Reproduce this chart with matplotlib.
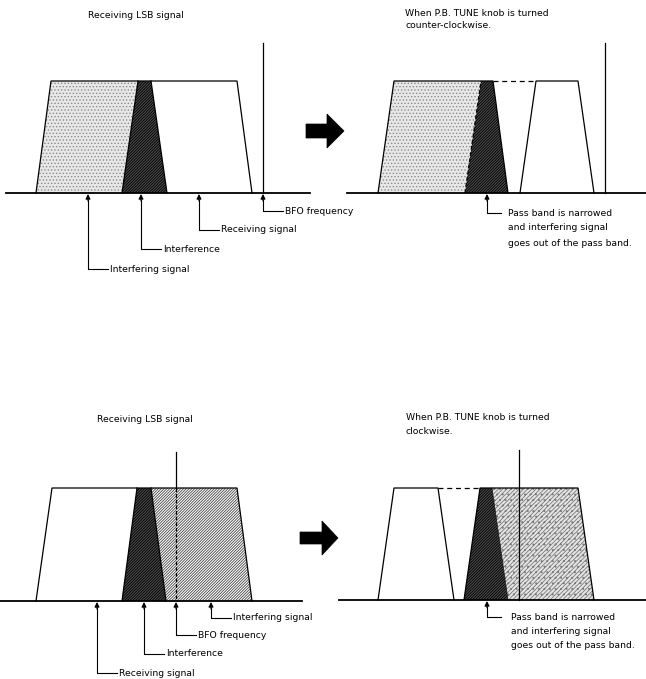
import matplotlib
matplotlib.use("Agg")
import matplotlib.pyplot as plt
from matplotlib.patches import Polygon

plt.rcParams["hatch.linewidth"] = 0.6
plt.rcParams["font.family"] = ["DejaVu Sans"]

# ---- diagram geometry (pixel units of the 646x679 page) ----
# top row: counter-clockwise case
top_base_y = 193
top_band_y = 81
top_bfo_top = 43
# pass band corners: bottom-left, top-left, top-right, bottom-right
top_l_band = [36, 51, 237, 252]
top_l_recv_edge = [122, 138]      # bottom, top of receiving signal lower edge
top_l_intf_edge = [167, 151]      # bottom, top of interfering signal upper edge
top_l_bfo = 263
top_l_arrows_x = [88, 141, 199, 263]
top_l_arrows_y = [269, 249, 230, 211]
top_l_labels = ["Interfering signal", "Interference", "Receiving signal", "BFO frequency"]

top_r_band = [378, 394, 493, 508]
top_r_recv_edge = [465, 481]
top_r_upper = [520, 536, 578, 594]
top_r_bfo = 605
top_r_arrow_x = 487
top_r_arrow_y = 213

# bottom row: clockwise case
bot_base_y = 601
bot_band_y = 488
bot_bfo_top = 452
bot_l_band = [36, 52, 237, 252]
bot_l_intf_edge = [122, 137]
bot_l_recv_edge = [166, 151]
bot_l_bfo = 176
bot_l_arrows_x = [211, 176, 144, 97]
bot_l_arrows_y = [618, 635, 654, 673]
bot_l_labels = ["Interfering signal", "BFO frequency", "Interference", "Receiving signal"]

bot_r_lower = [378, 394, 438, 454]
bot_r_band = [464, 480, 578, 594]
bot_r_intf_edge = [508, 492]
bot_r_bfo = 519
bot_r_arrow_x = 487
bot_r_arrow_y = 617

note_lines = ["Pass band is narrowed", "and interfering signal", "goes out of the pass band."]

fig = plt.figure(figsize=(6.46, 6.79), dpi=100)
ax = fig.add_axes([0, 0, 1, 1])
ax.set_xlim(0, 646)
ax.set_ylim(679, 0)
ax.axis("off")

LW = 0.9
FS = 6.7


def fill(pts, face, hatch=None, hcol="black"):
    ax.add_patch(Polygon(pts, closed=True, facecolor=face, edgecolor=hcol,
                         hatch=hatch, linewidth=0, zorder=1))


def outline(pts, ls="-", lw=LW):
    xs = [p[0] for p in pts]
    ys = [p[1] for p in pts]
    ax.plot(xs, ys, color="black", lw=lw, ls=ls, zorder=3, solid_joinstyle="miter")


def trap(c, yb, yt):
    return [(c[0], yb), (c[1], yt), (c[2], yt), (c[3], yb)]


def up_arrow(x, base):
    ax.annotate("", xy=(x, base + 1), xytext=(x, base + 8),
                arrowprops=dict(arrowstyle="-|>", color="black", lw=0.8,
                                mutation_scale=7, shrinkA=0, shrinkB=0), zorder=4)


def leader(x, base, y, label):
    up_arrow(x, base)
    ax.plot([x, x, x + 20], [base + 7, y, y], color="black", lw=0.8, zorder=3)
    ax.text(x + 22, y, label, fontsize=FS, va="center", ha="left")


def big_arrow(x0, xm, x1, yc, sh, hh):
    ax.add_patch(Polygon([(x0, yc - sh), (xm, yc - sh), (xm, yc - hh), (x1, yc),
                          (xm, yc + hh), (xm, yc + sh), (x0, yc + sh)],
                         closed=True, facecolor="black", edgecolor="black", lw=0.5))


stip = "....."
dark = "////////////"
# ---------------- top left ----------------
yb, yt = top_base_y, top_band_y
fill([(top_l_band[0], yb), (top_l_band[1], yt), (top_l_recv_edge[1], yt), (top_l_recv_edge[0], yb)],
     "#e8e8e8", stip, "#8a8a8a")
fill([(top_l_recv_edge[0], yb), (top_l_recv_edge[1], yt), (top_l_intf_edge[1], yt), (top_l_intf_edge[0], yb)],
     "#4a4a4a", dark, "black")
outline(trap(top_l_band, yb, yt))
outline([(top_l_recv_edge[0], yb), (top_l_recv_edge[1], yt)])
outline([(top_l_intf_edge[0], yb), (top_l_intf_edge[1], yt)])
ax.plot([6, 310], [yb, yb], color="black", lw=1.3, zorder=3)
ax.plot([top_l_bfo, top_l_bfo], [top_bfo_top, yb], color="black", lw=LW, zorder=3)
for x, y, lab in zip(top_l_arrows_x, top_l_arrows_y, top_l_labels):
    leader(x, yb, y, lab)
ax.text(88, 16, "Receiving LSB signal", fontsize=FS, va="center")

big_arrow(306, 327, 344, 131, 7, 17)

# ---------------- top right ----------------
fill([(top_r_band[0], yb), (top_r_band[1], yt), (top_r_recv_edge[1], yt), (top_r_recv_edge[0], yb)],
     "#e8e8e8", stip, "#8a8a8a")
fill([(top_r_recv_edge[0], yb), (top_r_recv_edge[1], yt), (top_r_band[2], yt), (top_r_band[3], yb)],
     "#4a4a4a", dark, "black")
outline(trap(top_r_band, yb, yt))
outline([(top_r_recv_edge[0], yb), (top_r_recv_edge[1], yt)], ls=(0, (3, 2)))
outline([(top_r_band[2], yt), (top_r_upper[1], yt)], ls=(0, (4, 3)))
outline(trap(top_r_upper, yb, yt))
ax.plot([347, 646], [yb, yb], color="black", lw=1.3, zorder=3)
ax.plot([top_r_bfo, top_r_bfo], [top_bfo_top, yb], color="black", lw=LW, zorder=3)
up_arrow(top_r_arrow_x, yb)
ax.plot([top_r_arrow_x, top_r_arrow_x, top_r_arrow_x + 14], [yb + 7, top_r_arrow_y, top_r_arrow_y],
        color="black", lw=0.8)
for i, line in enumerate(note_lines):
    ax.text(508, top_r_arrow_y + 15 * i, line, fontsize=FS, va="center")
ax.text(405, 13, "When P.B. TUNE knob is turned", fontsize=FS, va="center")
ax.text(405, 26, "counter-clockwise.", fontsize=FS, va="center")

# ---------------- bottom left ----------------
yb, yt = bot_base_y, bot_band_y
fill([(bot_l_intf_edge[0], yb), (bot_l_intf_edge[1], yt), (bot_l_recv_edge[1], yt), (bot_l_recv_edge[0], yb)],
     "#4a4a4a", dark, "black")
fill([(bot_l_recv_edge[0], yb), (bot_l_recv_edge[1], yt), (bot_l_band[2], yt), (bot_l_band[3], yb)],
     "white", "////////////", "#444444")
outline(trap(bot_l_band, yb, yt))
outline([(bot_l_intf_edge[0], yb), (bot_l_intf_edge[1], yt)])
outline([(bot_l_recv_edge[0], yb), (bot_l_recv_edge[1], yt)])
ax.plot([0, 302], [yb, yb], color="black", lw=1.3, zorder=3)
ax.plot([bot_l_bfo, bot_l_bfo], [bot_bfo_top, yt], color="black", lw=LW, zorder=3)
ax.plot([bot_l_bfo, bot_l_bfo], [yt, yb], color="black", lw=LW, ls=(0, (3, 1.5)), zorder=3)
for x, y, lab in zip(bot_l_arrows_x, bot_l_arrows_y, bot_l_labels):
    leader(x, yb, y, lab)
ax.text(97, 420, "Receiving LSB signal", fontsize=FS, va="center")

big_arrow(300, 322, 338, 538, 6, 17)

# ---------------- bottom right ----------------
yb = 600
fill([(bot_r_band[0], yb), (bot_r_band[1], yt), (bot_r_intf_edge[1], yt), (bot_r_intf_edge[0], yb)],
     "#4a4a4a", dark, "black")
fill([(bot_r_intf_edge[0], yb), (bot_r_intf_edge[1], yt), (bot_r_band[2], yt), (bot_r_band[3], yb)],
     "#e4e4e4", "////////...", "#7a7a7a")
outline(trap(bot_r_lower, yb, yt))
outline([(bot_r_lower[2], yt), (bot_r_band[1], yt)], ls=(0, (4, 3)))
outline(trap(bot_r_band, yb, yt))
outline([(bot_r_intf_edge[0], yb), (bot_r_intf_edge[1], yt)], lw=0.5)
ax.plot([339, 646], [yb, yb], color="black", lw=1.3, zorder=3)
ax.plot([bot_r_bfo, bot_r_bfo], [450, yb], color="black", lw=LW, zorder=3)
up_arrow(bot_r_arrow_x, yb)
ax.plot([bot_r_arrow_x, bot_r_arrow_x, bot_r_arrow_x + 14], [yb + 7, bot_r_arrow_y, bot_r_arrow_y],
        color="black", lw=0.8)
for i, line in enumerate(note_lines):
    ax.text(511, bot_r_arrow_y + 14 * i, line, fontsize=FS, va="center")
ax.text(406, 418, "When P.B. TUNE knob is turned", fontsize=FS, va="center")
ax.text(406, 431, "clockwise.", fontsize=FS, va="center")

fig.savefig("out.png", dpi=100)
